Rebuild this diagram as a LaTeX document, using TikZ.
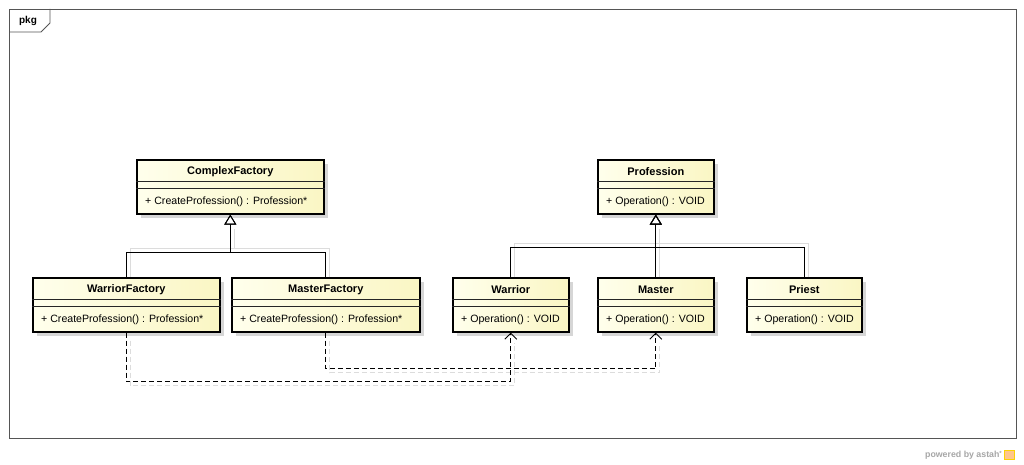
\documentclass[tikz,border=0pt]{standalone}
\usepackage{fontspec}
\setmainfont{Liberation Sans}
\usetikzlibrary{arrows.meta,shadows}
\definecolor{boxL}{RGB}{255,255,236}
\definecolor{boxR}{RGB}{250,246,196}
\definecolor{frameC}{RGB}{85,85,85}
\definecolor{shadowC}{RGB}{220,220,220}
\tikzset{
  txt/.style={font=\fontsize{10.6}{12}\selectfont, inner sep=0pt},
  classbox/.style={draw=black, line width=1.6pt, left color=boxL, right color=boxR,
    minimum width=#1, minimum height=54pt, anchor=north west, inner sep=0pt,
    general shadow={fill=black!16, shadow xshift=4pt, shadow yshift=-4pt}},
  comp/.style={line width=0.8pt, draw=black!85},
  gen/.style={line width=0.9pt, -{Triangle[open,length=10pt,width=12pt,line width=0.9pt]}},
  dep/.style={line width=0.9pt, dash pattern=on 5pt off 3pt, -{Straight Barb[length=6pt,width=12pt,line width=0.9pt]}},
  shadowline/.style={line width=0.9pt, draw=shadowC},
}
\newcommand\umlclass[6]{%
  \node[classbox=#4] (#1) at (#2,#3) {};
  \draw[comp] ([yshift=-22pt]#1.north west) -- ([yshift=-22pt]#1.north east);
  \draw[comp] ([yshift=-29pt]#1.north west) -- ([yshift=-29pt]#1.north east);
  \node[txt, font=\fontsize{11}{12}\selectfont\bfseries] (#1-t) at ([yshift=-12.5pt]#1.north) {#5};
  \node[txt, anchor=west] (#1-o) at ([yshift=-42.5pt,xshift=9pt]#1.north west) {#6};
}
\begin{document}
\begin{tikzpicture}[x=1pt,y=-1pt]
\useasboundingbox[fill=white] (0,0) rectangle (1024,465);
% frame
\draw[frameC, line width=0.9pt] (9,9) rectangle (1016,438);
\draw[frameC, line width=0.9pt] (9,32) -- (41,32) -- (50,23) -- (50,9);
\node[font=\fontsize{10}{12}\selectfont\bfseries, inner sep=0pt] (pkg) at (28,21) {pkg};

% classes
\umlclass{cf}{136}{159}{187pt}{ComplexFactory}{+ CreateProfession() : Profession*}
\umlclass{pr}{597}{159}{116pt}{Profession}{+ Operation() : VOID}
\umlclass{wf}{32}{277}{187pt}{WarriorFactory}{+ CreateProfession() : Profession*}
\umlclass{mf}{231}{277}{188pt}{MasterFactory}{+ CreateProfession() : Profession*}
\umlclass{w}{452}{277}{116pt}{Warrior}{+ Operation() : VOID}
\umlclass{m}{597}{277}{116pt}{Master}{+ Operation() : VOID}
\umlclass{p}{746}{277}{115pt}{Priest}{+ Operation() : VOID}

% connector shadows
\begin{scope}[transform canvas={shift={(4pt,-4pt)}}]
\draw[shadowline] ([yshift=4pt]wf.north) -- ++(0,-29) -| ([yshift=-10pt]cf.south);
\draw[shadowline] ([yshift=4pt]mf.north) -- ++(0,-29) -| ([yshift=-10pt]cf.south);
\draw[shadowline] ([yshift=4pt]w.north) -- ++(0,-34) -| ([yshift=-10pt]pr.south);
\draw[shadowline] ([yshift=4pt]p.north) -- ++(0,-34) -| ([yshift=-10pt]pr.south);
\draw[shadowline] ([yshift=4pt]m.north) -- ([yshift=-10pt]pr.south);
\draw[shadowline, dash pattern=on 5pt off 3pt] ([yshift=-4pt]wf.south) -- ++(0,45) -| ([yshift=-6pt]w.south);
\draw[shadowline, dash pattern=on 5pt off 3pt] ([yshift=-4pt]mf.south) -- ++(0,32) -| ([yshift=-6pt]m.south);
\end{scope}

% generalizations
\draw[gen] (wf.north) -- ++(0,-25) -| (cf.south);
\draw[gen] (mf.north) -- ++(0,-25) -| (cf.south);
\draw[gen] (w.north) -- ++(0,-30) -| (pr.south);
\draw[gen] (p.north) -- ++(0,-30) -| (pr.south);
\draw[gen] (m.north) -- (pr.south);

% dependencies
\draw[dep] (wf.south) -- ++(0,49) -| (w.south);
\draw[dep] (mf.south) -- ++(0,36) -| (m.south);

% footer
\node[font=\fontsize{8.8}{10}\selectfont\bfseries, text=black!35, anchor=east, inner sep=0pt] (pw) at (1002,455) {powered by astah\raisebox{0.3ex}{\fontsize{6}{7}\selectfont*}};
\node[fill=orange!45, draw=yellow!70!orange, line width=0.4pt, minimum width=10pt, minimum height=9pt, inner sep=0pt, anchor=west] (logo) at ([xshift=2pt]pw.east) {};
\end{tikzpicture}
\end{document}
